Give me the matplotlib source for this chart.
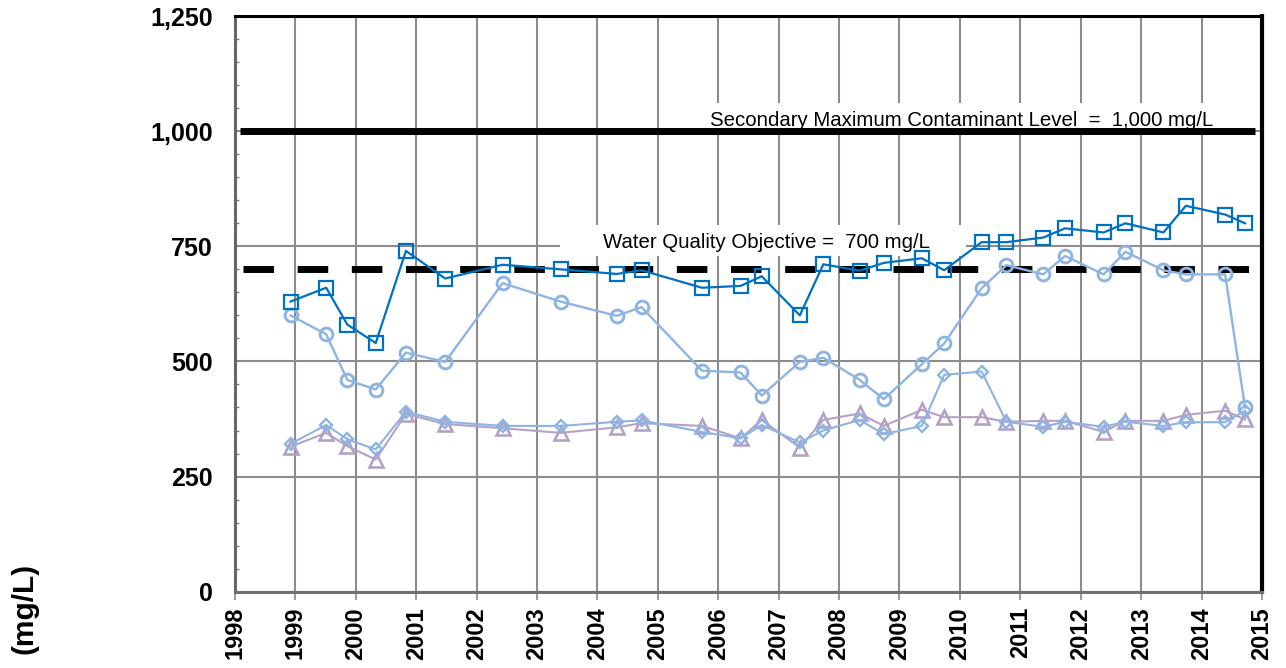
import matplotlib
matplotlib.use("Agg")
import matplotlib.pyplot as plt
from matplotlib.patches import Rectangle
from matplotlib.ticker import MultipleLocator, FuncFormatter

plt.rcParams['font.family'] = ['Liberation Sans', 'DejaVu Sans']

# fechas de muestreo (año decimal)
fechas = [1998.92, 1999.51, 1999.86, 2000.33, 2000.83, 2001.48, 2002.43, 2003.39,
          2004.32, 2004.73, 2005.73, 2006.37, 2006.72, 2007.35, 2007.74, 2008.34,
          2008.74, 2009.37, 2009.74, 2010.36, 2010.77, 2011.38, 2011.74, 2012.38,
          2012.74, 2013.37, 2013.74, 2014.39, 2014.72]

# TDS (mg/L) por pozo
pozo_cuadros = [630, 660, 580, 540, 740, 680, 710, 700, 690, 698, 660, 664, 685, 600,
                711, 697, 714, 724, 698, 759, 759, 769, 789, 780, 800, 780, 838, 819, 800]
pozo_circulos = [600, 559, 460, 439, 519, 499, 670, 630, 599, 618, 480, 476, 426, 499,
                 508, 460, 418, 494, 539, 659, 709, 689, 729, 689, 738, 698, 689, 689, 400]
pozo_rombos = [321, 362, 331, 309, 391, 369, 360, 360, 369, 372, 347, 333, 362, 324,
               350, 373, 342, 360, 471, 478, 369, 358, 369, 358, 369, 360, 368, 368, 393]
pozo_triangulos = [315, 345, 316, 287, 386, 364, 355, 345, 357, 366, 360, 333, 373, 313,
                   373, 387, 360, 395, 379, 379, 369, 371, 371, 347, 371, 371, 384, 393, 374]

# límites normativos
smcl = 1000
wqo = 700
anios = list(range(1998, 2016))

fig = plt.figure(figsize=(12.86, 6.68), dpi=100)
ax = fig.add_axes([0.1827, 0.1142, 0.7986, 0.8618])

ax.set_xlim(1998, 2015)
ax.set_ylim(0, 1250)

# cuadrícula
ax.set_xticks(anios)
ax.yaxis.set_major_locator(MultipleLocator(250))
ax.yaxis.set_minor_locator(MultipleLocator(50))
ax.grid(True, which='major', color='#8c8c8c', lw=1.5, zorder=0)
ax.set_axisbelow(True)

# cajas blancas detrás de los rótulos
ax.add_patch(Rectangle((2005.7, 1000), 9.18, 61, facecolor='white', edgecolor='none', zorder=1))
ax.add_patch(Rectangle((2003.38, 729), 6.72, 67, facecolor='white', edgecolor='none', zorder=1))

# líneas de referencia
ax.plot([1998.08, 2014.88], [smcl, smcl], color='black', lw=5, solid_capstyle='butt', zorder=2)
ax.plot([1998.13, 2014.88], [wqo, wqo], color='black', lw=5, dashes=(4.4, 3.4), zorder=2)

ax.text(2005.87, 1011, 'Secondary Maximum Contaminant Level  =  1,000 mg/L',
        fontsize=14.7, va='baseline', ha='left', zorder=3)
ax.text(2004.09, 746, 'Water Quality Objective =  700 mg/L',
        fontsize=14.7, va='baseline', ha='left', zorder=3)

# series
ax.plot(fechas, pozo_triangulos, color='#B3A2C7', lw=1.5, marker='^', ms=10.5,
        mfc='none', mew=1.9, zorder=4)
ax.plot(fechas, pozo_rombos, color='#8DB4E2', lw=1.5, marker='D', ms=6.2,
        mfc='none', mew=1.7, zorder=5)
ax.plot(fechas, pozo_circulos, color='#8DB4E2', lw=1.7, marker='o', ms=9.2,
        mfc='none', mew=2.1, zorder=6)
ax.plot(fechas, pozo_cuadros, color='#0070C0', lw=1.6, marker='s', ms=10,
        mfc='none', mew=1.6, zorder=7)

# ejes
ax.spines['top'].set_color('black')
ax.spines['top'].set_linewidth(2.2)
ax.spines['right'].set_color('black')
ax.spines['right'].set_linewidth(3)
ax.spines['left'].set_color('#666666')
ax.spines['left'].set_linewidth(2.2)
ax.spines['bottom'].set_color('#707070')
ax.spines['bottom'].set_linewidth(2.2)

ax.yaxis.set_major_formatter(FuncFormatter(lambda v, p: f'{int(v):,}'))
ax.tick_params(axis='y', which='major', length=0, pad=16, labelsize=18)
ax.tick_params(axis='y', which='minor', direction='in', length=3, width=1, color='#808080')
ax.tick_params(axis='x', which='major', direction='out', length=6, width=1.2,
               color='#8c8c8c', pad=5, labelsize=17, labelrotation=90)
for lbl in ax.get_xticklabels() + ax.get_yticklabels():
    lbl.set_fontweight('bold')

fig.text(24 / 1286, 1 - 608 / 668, '(mg/L)', rotation=90, fontsize=21.5,
         fontweight='bold', ha='center', va='center')

fig.savefig('out.png', dpi=100)
